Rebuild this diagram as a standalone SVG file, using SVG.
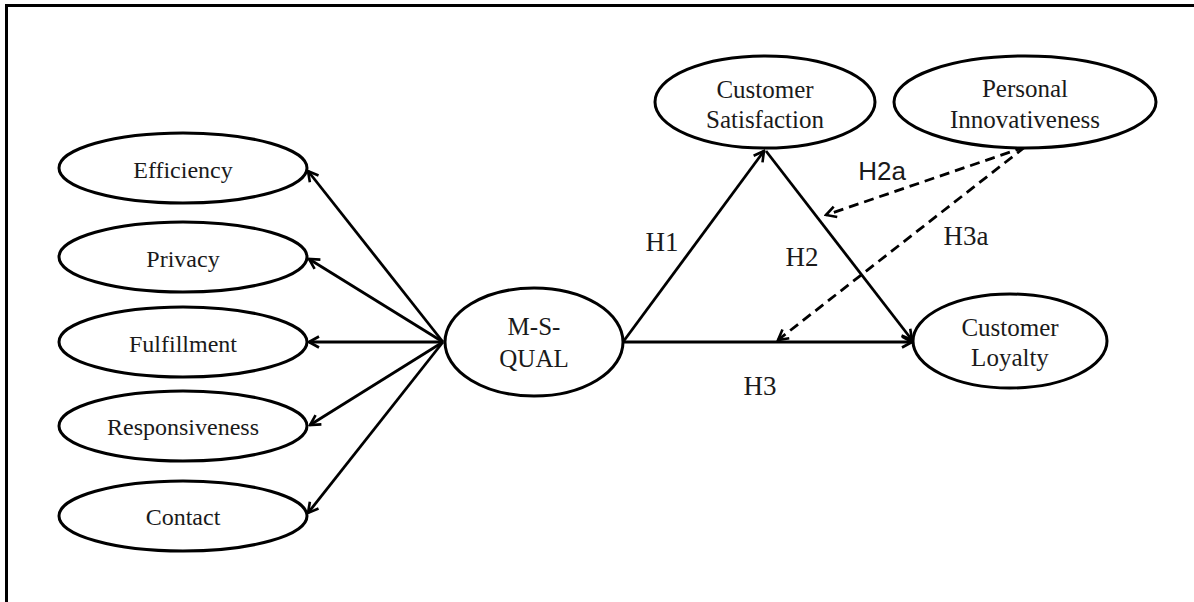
<svg xmlns="http://www.w3.org/2000/svg" width="1194" height="602" viewBox="0 0 1194 602">
<style>
.node ellipse{fill:#fff;stroke:#000;stroke-width:3}
.node text{font-family:"Liberation Serif","Times New Roman",serif;font-size:24px;fill:#1a1a1a;text-anchor:middle}
.big text{font-size:25px}
.edge{stroke:#000;stroke-width:2.8;fill:none;marker-end:url(#arr)}
.dash{stroke-dasharray:10 6}
.lbl{font-family:"Liberation Serif","Times New Roman",serif;font-size:27px;fill:#1a1a1a;text-anchor:middle}
.lbls{font-family:"Liberation Sans",Arial,sans-serif;font-size:26px;fill:#1a1a1a;text-anchor:middle}
</style>
<defs>
<marker id="arr" markerUnits="userSpaceOnUse" markerWidth="14" markerHeight="14" viewBox="0 0 14 14" refX="12" refY="7" orient="auto">
<path d="M2,1.5 L12,7 L2,12.5" fill="none" stroke="#000" stroke-width="2.6"/>
</marker>
</defs>
<rect width="1194" height="602" fill="#fff"/>
<path d="M6.5,602 V5.5 H1194" fill="none" stroke="#000" stroke-width="3"/>
<g id="connectors">
<line class="edge" x1="443" y1="342" x2="308" y2="171"/>
<line class="edge" x1="443" y1="342" x2="309" y2="259"/>
<line class="edge" x1="443" y1="342" x2="309" y2="342"/>
<line class="edge" x1="443" y1="342" x2="310" y2="425"/>
<line class="edge" x1="443" y1="342" x2="308" y2="513"/>
<line class="edge" x1="623" y1="342" x2="764" y2="151"/>
<line class="edge" x1="766" y1="151" x2="912" y2="340"/>
<line class="edge" x1="623" y1="342" x2="912" y2="342"/>
<line class="edge dash" x1="1025" y1="147" x2="826" y2="215"/>
<line class="edge dash" x1="1025" y1="147" x2="778" y2="340"/>
<text class="lbl" x="662" y="251">H1</text>
<text class="lbl" x="802" y="266">H2</text>
<text class="lbl" x="760" y="395">H3</text>
<text class="lbls" x="882" y="180">H2a</text>
<text class="lbl" x="966" y="245">H3a</text>
</g>
<g id="efficiency" class="node"><ellipse cx="183" cy="168" rx="124" ry="35"/><text x="183" y="178">Efficiency</text></g>
<g id="privacy" class="node"><ellipse cx="183" cy="257" rx="124" ry="35"/><text x="183" y="267">Privacy</text></g>
<g id="fulfillment" class="node"><ellipse cx="183" cy="342" rx="124" ry="35"/><text x="183" y="352">Fulfillment</text></g>
<g id="responsiveness" class="node"><ellipse cx="183" cy="426" rx="124" ry="35"/><text x="183" y="435">Responsiveness</text></g>
<g id="contact" class="node"><ellipse cx="183" cy="516" rx="124" ry="35"/><text x="183" y="525">Contact</text></g>
<g id="msqual" class="node big"><ellipse cx="534" cy="342" rx="89" ry="54"/><text x="534" y="335">M-S-</text><text x="534" y="367">QUAL</text></g>
<g id="satisfaction" class="node big"><ellipse cx="765" cy="102" rx="110" ry="46"/><text x="765" y="98">Customer</text><text x="765" y="128">Satisfaction</text></g>
<g id="innovativeness" class="node big"><ellipse cx="1025" cy="102" rx="131" ry="46"/><text x="1025" y="97">Personal</text><text x="1025" y="128">Innovativeness</text></g>
<g id="loyalty" class="node big"><ellipse cx="1010" cy="341" rx="97" ry="47"/><text x="1010" y="336">Customer</text><text x="1010" y="366">Loyalty</text></g>
</svg>
